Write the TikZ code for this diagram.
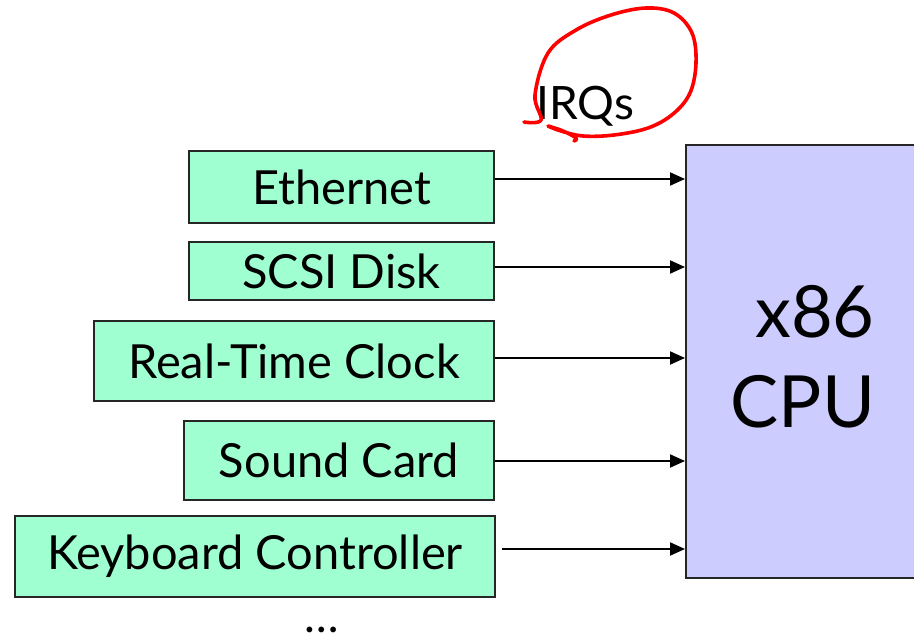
\documentclass[tikz,border=0pt]{standalone}
\usepackage{fontspec}
\setmainfont{Lato}
\usetikzlibrary{arrows.meta}
\definecolor{devgreen}{RGB}{160,255,208}
\definecolor{cpublue}{RGB}{204,204,255}
\definecolor{hand}{RGB}{255,0,0}
\tikzset{
  dev/.style={draw=black!85, line width=2pt, fill=devgreen, inner sep=0pt,
    font=\fontsize{47}{50}\selectfont},
  irq/.style={line width=2pt, -{Triangle[length=15pt,width=13pt]}},
  lbl/.style={inner sep=0pt, font=\fontsize{46}{50}\selectfont},
}
\begin{document}
\begin{tikzpicture}[x=1pt,y=-1pt]
\clip (0,0) rectangle (914,642);
\fill[white] (0,0) rectangle (914,642);
\node[draw=black!85, line width=2pt, fill=cpublue, minimum width=260pt, minimum height=433pt, anchor=north west] (cpu) at (685,144) {};
\node[lbl, font=\fontsize{72}{76}\selectfont, anchor=base] (x86) at (815,337) {x86};
\node[lbl, font=\fontsize{72}{76}\selectfont, anchor=base] (cpulbl) at (803,427) {CPU};
\node[dev, minimum width=305pt, minimum height=72pt] (eth) at (341.5,187) {Ethernet};
\node[dev, minimum width=305pt, minimum height=58pt] (scsi) at (341.5,271) {SCSI Disk};
\node[dev, minimum width=400pt, minimum height=80pt] (rtc) at (294,361) {Real-Time Clock};
\node[dev, minimum width=310pt, minimum height=79pt] (snd) at (339,460.5) {Sound Card};
\node[dev, minimum width=480pt, minimum height=81pt] (kbd) at (255,556.5) {Keyboard Controller};
\coordinate (k1) at (0,179);
\coordinate (k2) at (0,267);
\coordinate (k3) at (0,358);
\coordinate (k4) at (0,461);
\coordinate (k5) at (502,549);
\draw[irq] (eth.east |- k1) -- (cpu.west |- k1);
\draw[irq] (scsi.east |- k2) -- (cpu.west |- k2);
\draw[irq] (rtc.east |- k3) -- (cpu.west |- k3);
\draw[irq] (snd.east |- k4) -- (cpu.west |- k4);
\draw[irq] (k5) -- (cpu.west |- k5);
\node[lbl, anchor=base west] (irqs) at (536,120) {IRQs};
\node[lbl, anchor=base] (dots) at (322,632) {\dots};
\draw[hand, line width=3.6pt, line cap=round, line join=round]
  plot[smooth, tension=0.6] coordinates {(524,122) (541,120) (535,95) (548,53) (576,30) (611,15) (646,8) (674,13) (692,33) (696,63) (690,93) (673,114) (648,128) (614,135) (583,136) (561,131) (548,126) (563,131) (576,138) (574,141)};
\end{tikzpicture}
\end{document}
